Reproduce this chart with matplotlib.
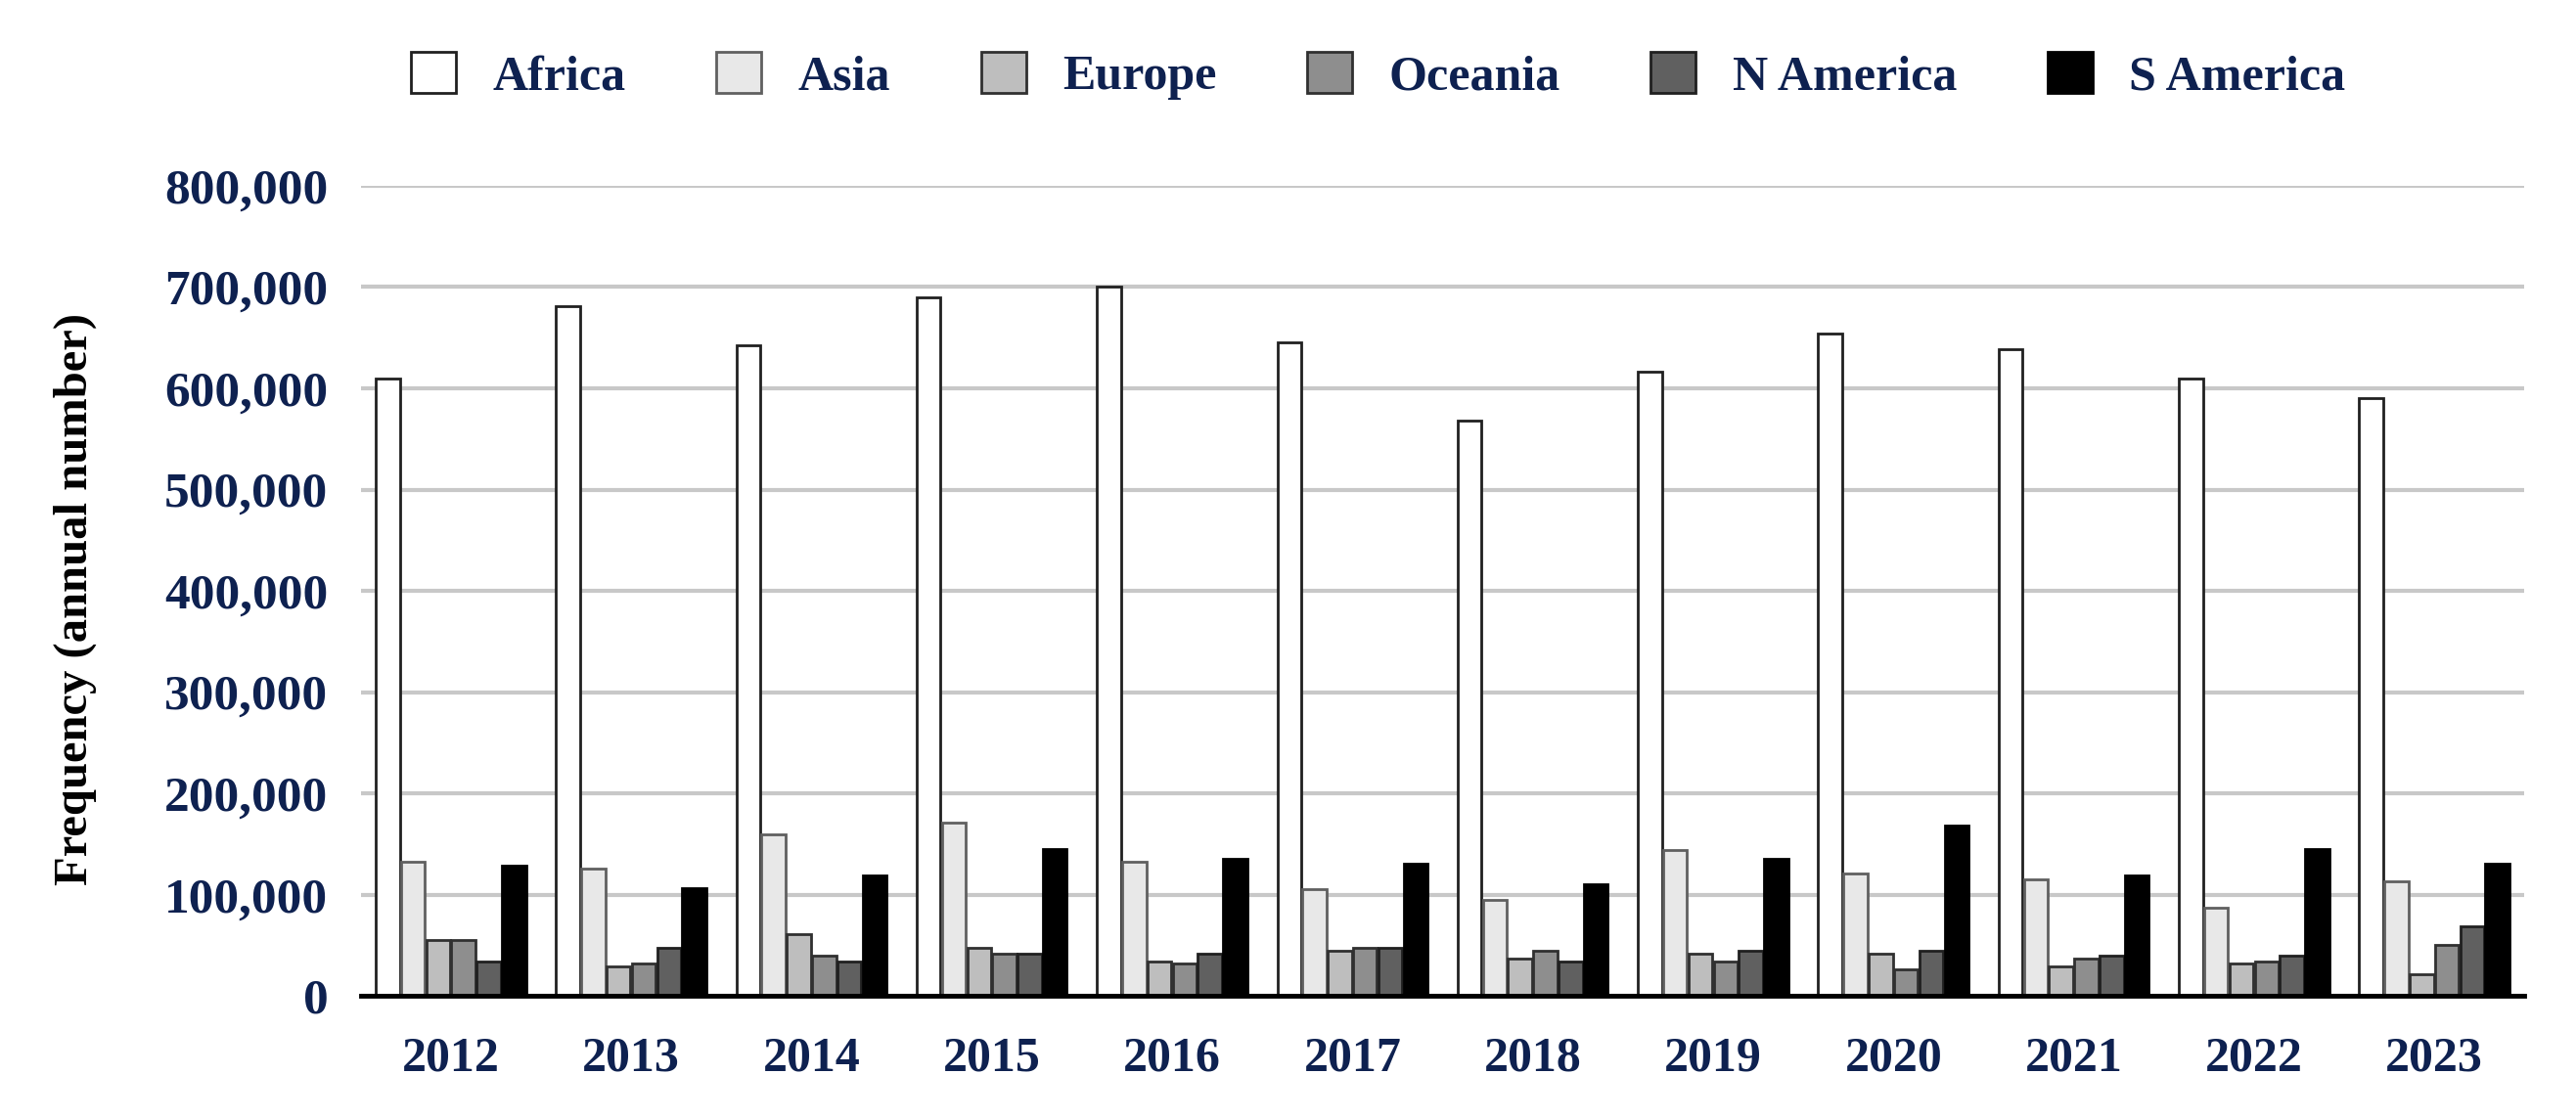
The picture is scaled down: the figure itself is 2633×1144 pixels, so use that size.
import numpy as np
import matplotlib.pyplot as plt
from matplotlib.ticker import FuncFormatter

plt.rcParams['font.family'] = ['Liberation Serif', 'DejaVu Serif']
plt.rcParams['font.weight'] = 'bold'

# data (annual number)
years = ["2012", "2013", "2014", "2015", "2016", "2017",
         "2018", "2019", "2020", "2021", "2022", "2023"]
regions = ["Africa", "Asia", "Europe", "Oceania", "N America", "S America"]

africa = [610000, 681000, 642000, 690000, 700000, 645000,
          568000, 616000, 654000, 639000, 610000, 590000]
asia = [132000, 126000, 160000, 171000, 132000, 105000,
        95000, 144000, 121000, 115000, 87000, 113000]
europe = [55000, 29000, 61000, 47000, 34000, 45000,
          37000, 42000, 42000, 29000, 32000, 21000]
oceania = [55000, 32000, 40000, 42000, 32000, 47000,
           45000, 34000, 26000, 37000, 34000, 50000]
n_america = [34000, 47000, 34000, 42000, 42000, 47000,
             34000, 45000, 45000, 40000, 40000, 69000]
s_america = [129000, 106000, 119000, 145000, 135000, 131000,
             110000, 135000, 168000, 119000, 145000, 131000]

series = [africa, asia, europe, oceania, n_america, s_america]
fills = ["#FFFFFF", "#E8E8E8", "#BEBEBE", "#8E8E8E", "#606060", "#000000"]
edges = ["#202020", "#606060", "#303030", "#303030", "#202020", "#000000"]
navy = "#0E2150"

fig = plt.figure(figsize=(26.33, 11.44), dpi=100)
ax = fig.add_axes([0.140, 0.110, 0.840, 0.724])

x = np.arange(len(years))
w = 0.14
for i, (vals, name) in enumerate(zip(series, regions)):
    ax.bar(x + (i - 2.5) * w, vals, width=w * 0.95, color=fills[i],
           edgecolor=edges[i], linewidth=2, label=name, zorder=3)

ax.set_xlim(-0.5, len(years) - 0.5)
ax.set_ylim(0, 800000)
ax.set_yticks(np.arange(0, 800001, 100000))
ax.yaxis.set_major_formatter(FuncFormatter(lambda v, p: f"{int(v):,}"))
ax.set_xticks(x)
ax.set_xticklabels(years)

ax.grid(axis="y", color="#C8C8C8", linewidth=3, zorder=0)
ax.set_axisbelow(True)
for s in ["top", "right", "left"]:
    ax.spines[s].set_visible(False)
ax.spines["bottom"].set_color("black")
ax.spines["bottom"].set_linewidth(3.5)
ax.spines["bottom"].set_zorder(4)

ax.tick_params(axis="y", length=0, labelsize=37, colors=navy, pad=24)
ax.tick_params(axis="x", length=0, labelsize=36, colors=navy, pad=30)

ax.set_ylabel("Frequency (annual number)", fontsize=35, fontweight="bold",
              color="black")
ax.yaxis.set_label_coords(-0.122, 0.49)

fig.legend(loc="center", bbox_to_anchor=(0.535, 0.932), ncol=6, frameon=False,
           fontsize=36, labelcolor=navy, handlelength=0.92, handleheight=0.9,
           handletextpad=0.75, columnspacing=1.85)

fig.savefig("out.png", dpi=100)
